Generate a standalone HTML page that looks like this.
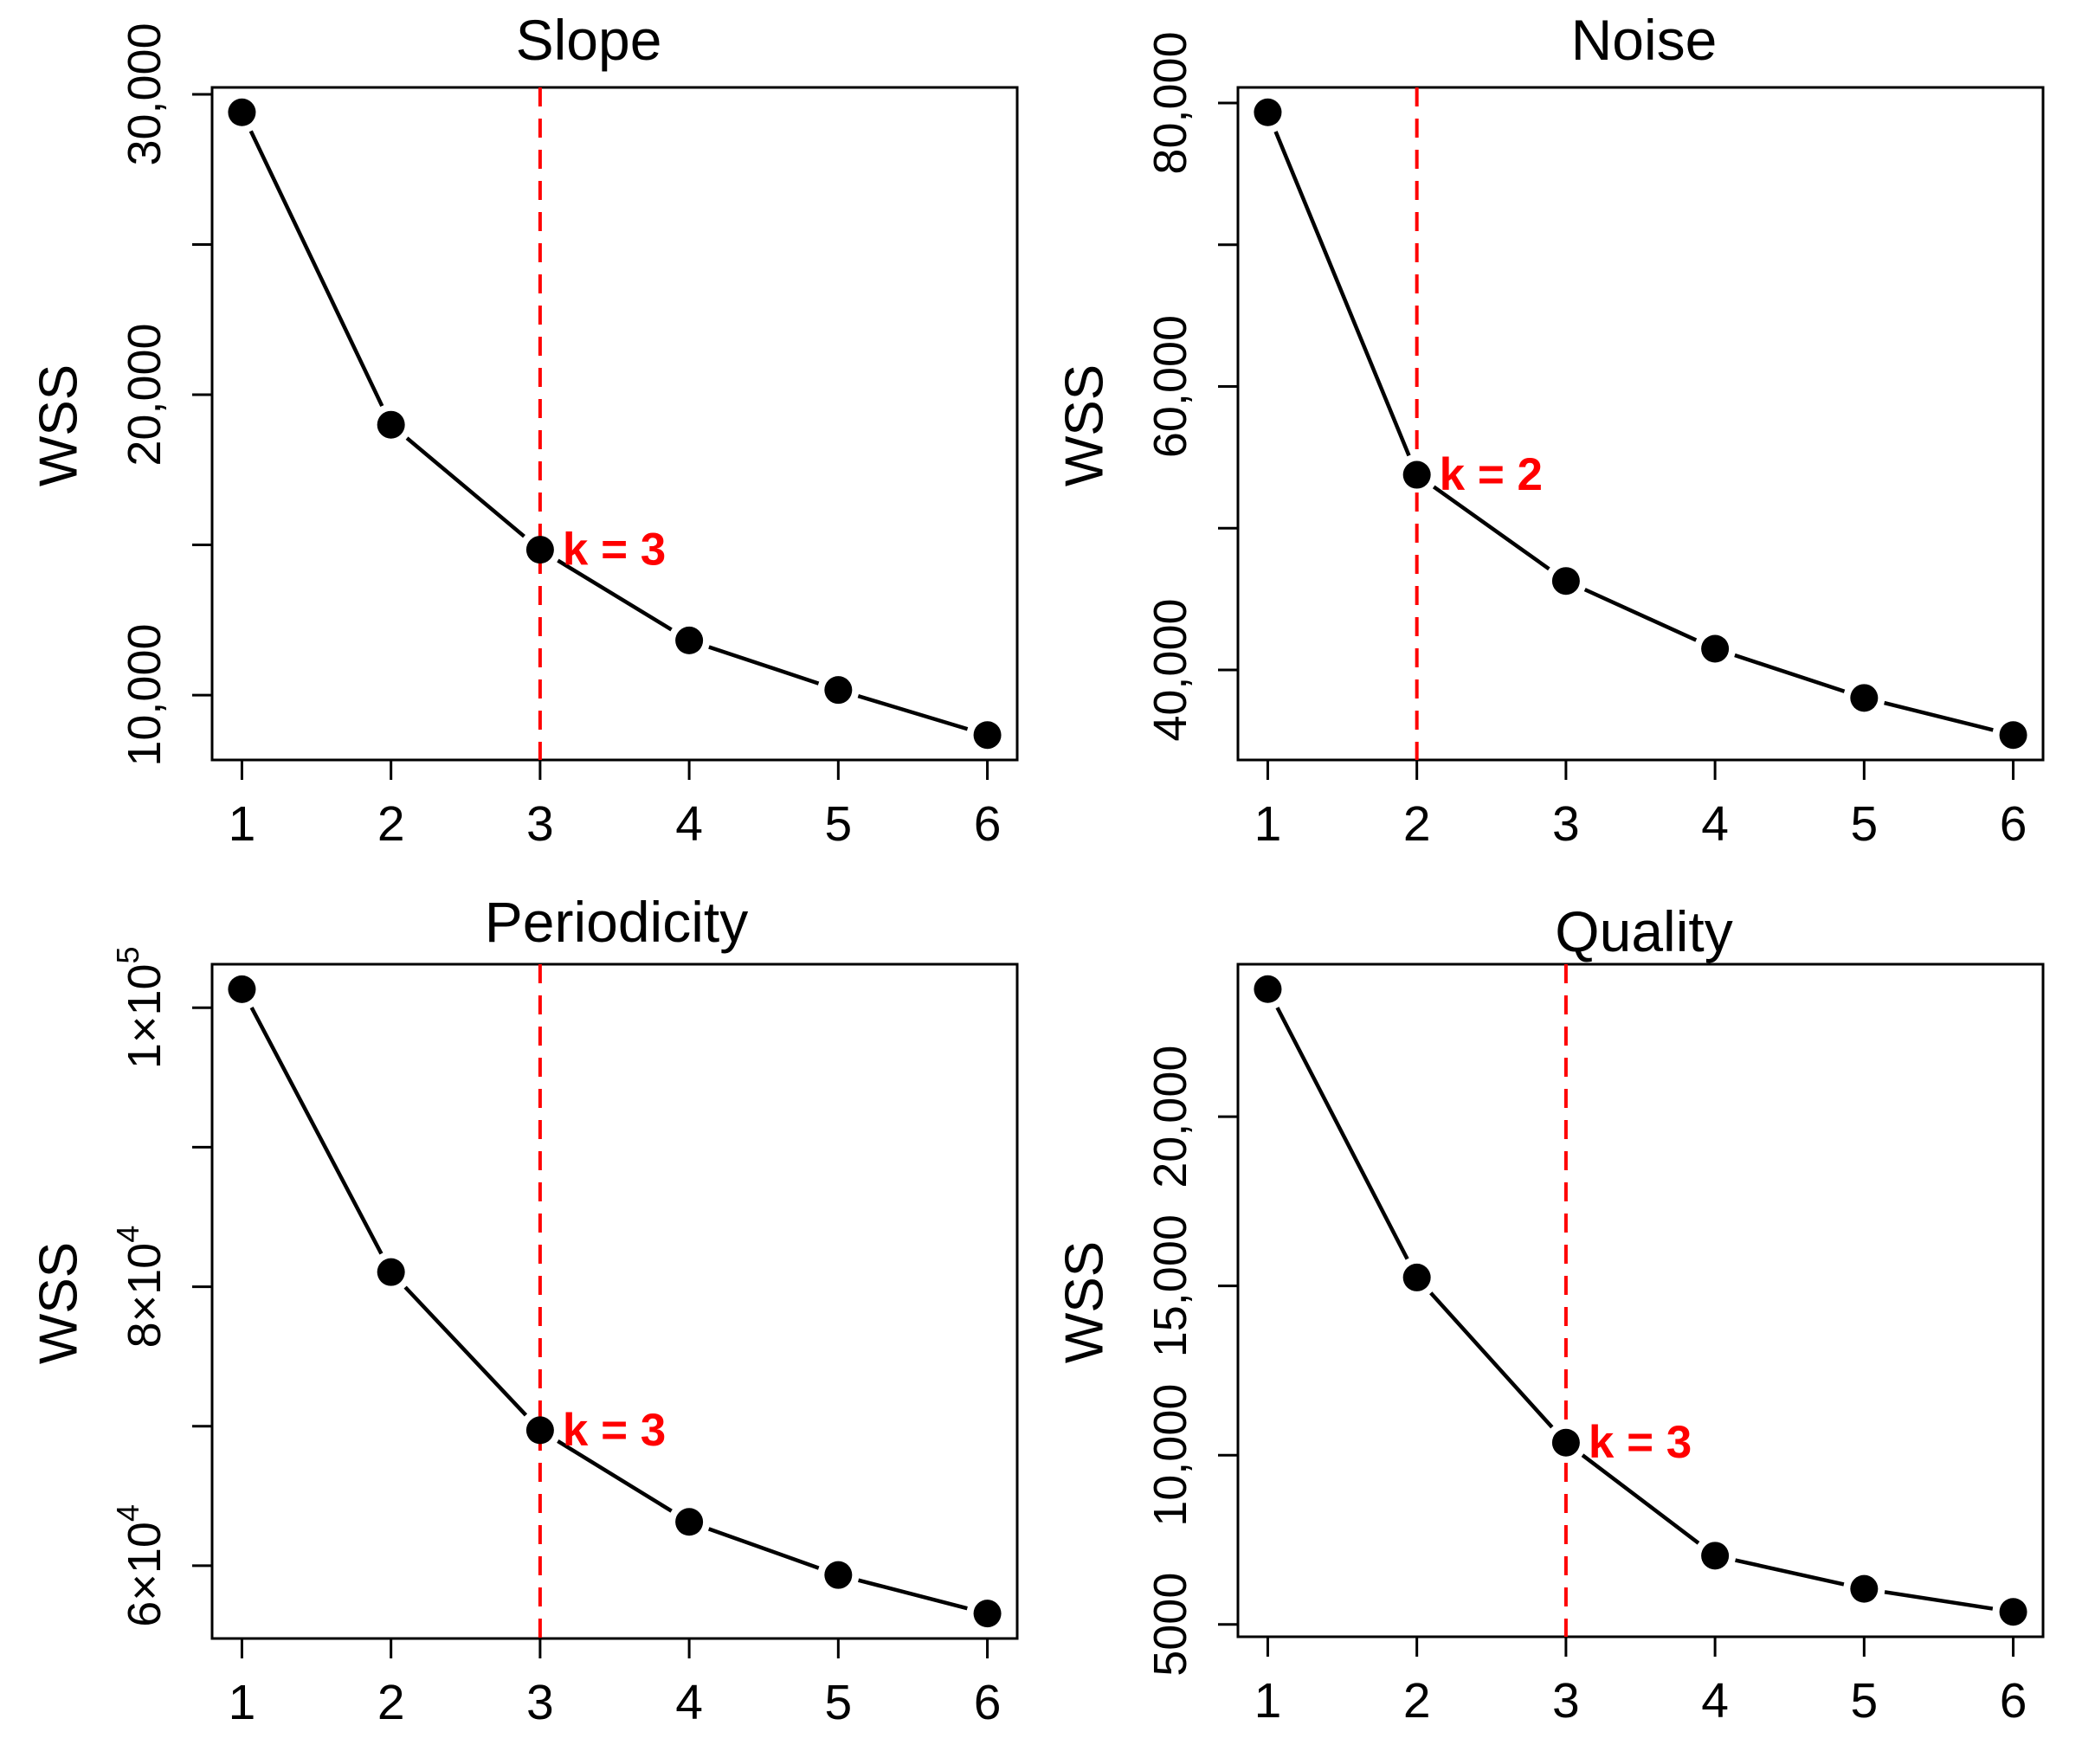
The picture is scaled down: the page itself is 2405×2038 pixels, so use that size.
<!DOCTYPE html>
<html><head><meta charset="utf-8">
<style>html,body{margin:0;padding:0;background:#fff}svg{display:block}</style></head>
<body>
<svg id="chart" width="2405" height="2038" viewBox="0 0 2405 2038" xmlns="http://www.w3.org/2000/svg" font-family="Liberation Sans, Arial, sans-serif"></svg>
<script>
const kValues = [1, 2, 3, 4, 5, 6];
const slopeWSS = [29400, 19000, 14840, 11820, 10170, 8670];
const noiseWSS = [79340, 53770, 46280, 41500, 38030, 35410];
const periodicityWSS = [101330, 81050, 69710, 63140, 59330, 56570];
const qualityWSS = [23770, 15250, 10370, 7030, 6050, 5370];
const slopeTicks = [10000, 15000, 20000, 25000, 30000];
const slopeTickLabels = ["10,000", "", "20,000", "", "30,000"];
const noiseTicks = [40000, 50000, 60000, 70000, 80000];
const noiseTickLabels = ["40,000", "", "60,000", "", "80,000"];
const periodicityTicks = [60000, 70000, 80000, 90000, 100000];
const periodicityTickLabels = [["6", "4"], null, ["8", "4"], null, ["1", "5"]];
const qualityTicks = [5000, 10000, 15000, 20000];
const qualityTickLabels = ["5000", "10,000", "15,000", "20,000"];
const titles = ["Slope", "Noise", "Periodicity", "Quality"];
const elbowK = [3, 2, 3, 3];

const NS = "http://www.w3.org/2000/svg";
const svg = document.getElementById("chart");
function mk(tag, attrs, parent) {
  const e = document.createElementNS(NS, tag);
  for (const k in attrs) e.setAttribute(k, attrs[k]);
  (parent || svg).appendChild(e);
  return e;
}
const panels = [
  {L:245, R:1175, T:101, B:878, data:slopeWSS, ticks:slopeTicks, labels:slopeTickLabels, tx:680, ty:46, id:"slope"},
  {L:1430, R:2360, T:101, B:878, data:noiseWSS, ticks:noiseTicks, labels:noiseTickLabels, tx:1899, ty:46, id:"noise"},
  {L:245, R:1175, T:1114, B:1893, data:periodicityWSS, ticks:periodicityTicks, labels:periodicityTickLabels, tx:712, ty:1065, id:"periodicity"},
  {L:1430, R:2360, T:1114, B:1891, data:qualityWSS, ticks:qualityTicks, labels:qualityTickLabels, tx:1899, ty:1076, id:"quality"}
];
panels.forEach((p, pi) => {
  const g = mk("g", {});
  
  
  const xmin = Math.min(...kValues), xmax = Math.max(...kValues);
  const xe = (xmax - xmin) * 0.04;
  const x = v => p.L + (v - (xmin - xe)) / ((xmax + xe) - (xmin - xe)) * (p.R - p.L);
  const ymin = Math.min(...p.data), ymax = Math.max(...p.data);
  const ye = (ymax - ymin) * 0.04;
  const y = v => p.B - (v - (ymin - ye)) / ((ymax + ye) - (ymin - ye)) * (p.B - p.T);

  const box = mk("rect", {x:p.L, y:p.T, width:p.R - p.L, height:p.B - p.T, fill:"none", stroke:"#000", "stroke-width":3}, g);
  
  
  const t = mk("text", {x:p.tx, y:p.ty, "font-size":66, "text-anchor":"middle", "dominant-baseline":"central"}, g);
  t.textContent = titles[pi];
  
  
  const yl = p.L - 177;
  const wt = mk("text", {x:yl, y:(p.T + p.B) / 2 + 2, "font-size":62, "text-anchor":"middle", "dominant-baseline":"central", transform:`rotate(-90 ${yl} ${(p.T + p.B) / 2 + 2})`}, g);
  wt.textContent = "WSS";
  
  

  kValues.forEach(k => {
    const tk = mk("line", {x1:x(k), x2:x(k), y1:p.B, y2:p.B + 23, stroke:"#000", "stroke-width":3}, g);
    
    
    const tl = mk("text", {x:x(k), y:p.B + 74, "font-size":57, "text-anchor":"middle", "dominant-baseline":"central"}, g);
    tl.textContent = k;
    
    
  });
  p.ticks.forEach((v, i) => {
    const yy = y(v);
    const tk = mk("line", {x1:p.L - 23, x2:p.L, y1:yy, y2:yy, stroke:"#000", "stroke-width":3}, g);
    
    
    const lab = p.labels[i];
    if (!lab) return;
    const lx = p.L - 78;
    const tl = mk("text", {x:lx, y:yy, "font-size":54, "text-anchor":"middle", "dominant-baseline":"central", transform:`rotate(-90 ${lx} ${yy})`}, g);
    if (Array.isArray(lab)) {
      tl.textContent = lab[0] + "×10";
      const s = mk("tspan", {"font-size":36, dy:-20}, tl);
      s.textContent = lab[1];
    } else tl.textContent = lab;
    
    
  });
  const ex = x(elbowK[pi]);
  const vl = mk("line", {x1:ex, x2:ex, y1:p.T, y2:p.B, stroke:"#ff0000", "stroke-width":4, "stroke-dasharray":"22 14"}, g);
  
  
  for (let i = 0; i < kValues.length - 1; i++) {
    const x1 = x(kValues[i]), y1 = y(p.data[i]), x2 = x(kValues[i + 1]), y2 = y(p.data[i + 1]);
    const d = Math.hypot(x2 - x1, y2 - y1), gap = 24;
    if (d <= 2 * gap) continue;
    const ux = (x2 - x1) / d, uy = (y2 - y1) / d;
    const s = mk("line", {x1:x1 + ux * gap, y1:y1 + uy * gap, x2:x2 - ux * gap, y2:y2 - uy * gap, stroke:"#000", "stroke-width":4.5}, g);
    
    
  }
  kValues.forEach((k, i) => {
    const c = mk("circle", {cx:x(k), cy:y(p.data[i]), r:16, fill:"#000"}, g);
    
    
  });
  const ki = kValues.indexOf(elbowK[pi]);
  const kl = mk("text", {x:ex + 26, y:y(p.data[ki]), "font-size":53, "font-weight":"bold", fill:"#ff0000", "dominant-baseline":"central"}, g);
  kl.textContent = "k = " + elbowK[pi];
  
  
});
</script>
</body></html>
